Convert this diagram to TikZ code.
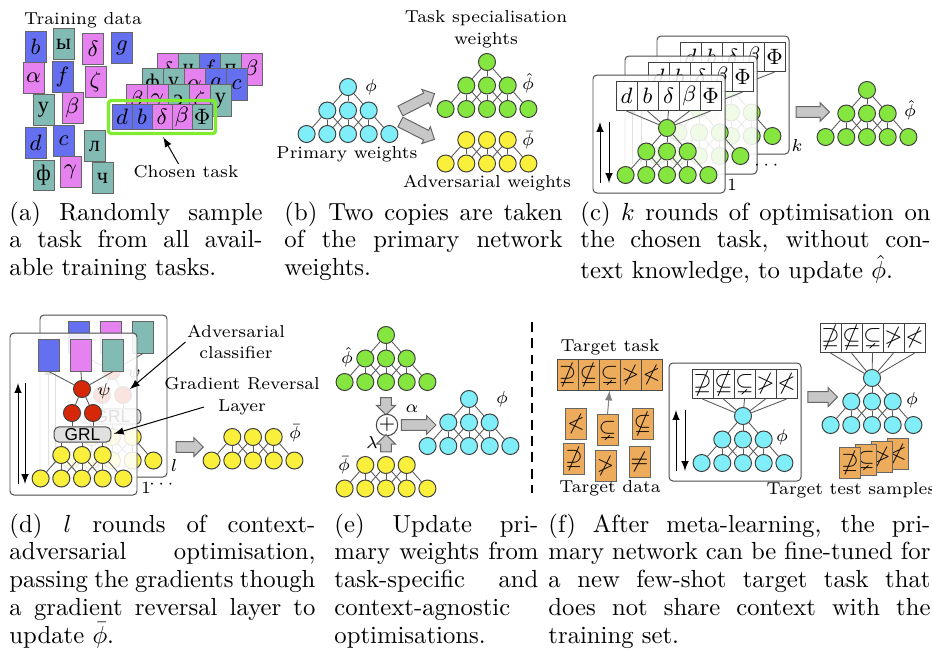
\documentclass[tikz,border=0pt]{standalone}
\usepackage{amsmath}
\usepackage{amssymb}
\usepackage{fontspec}
\newfontfamily\cyrfont{Liberation Serif}
\newfontfamily\grlfont{Liberation Sans}
\usetikzlibrary{shapes.arrows,fit}

\definecolor{unitcyan}{RGB}{128,238,248}
\definecolor{unitgreen}{RGB}{134,230,64}
\definecolor{unityellow}{RGB}{250,240,60}
\definecolor{unitred}{RGB}{214,40,8}
\definecolor{cardblue}{RGB}{100,112,240}
\definecolor{cardpink}{RGB}{230,130,240}
\definecolor{cardteal}{RGB}{130,186,180}
\definecolor{cardorange}{RGB}{236,172,92}
\definecolor{chosengreen}{RGB}{128,236,48}

\hyphenpenalty=10000

% two rows of units (3 over 5): name, centre x, y of upper row, colour
\newcommand{\flatnet}[4]{%
  \foreach \i in {1,2,3}
    \node[unit,fill=#4] (#1m\i) at ({#2+(\i-2)*20.7},{#3}) {};
  \foreach \i in {1,...,5}
    \node[unit,fill=#4] (#1b\i) at ({#2+(\i-3)*20.7},{#3+23.5}) {};
  \foreach \i in {1,2,3}
    \foreach \j in {0,1,2} {
      \pgfmathtruncatemacro{\k}{\i+\j}
      \draw[wire] (#1m\i) -- (#1b\k);
    }
}
% 1-3-5 network: name, centre x, y of top unit, colour
\newcommand{\pyrnet}[4]{%
  \node[unit,fill=#4] (#1t) at (#2,#3) {};
  \flatnet{#1}{#2}{#3+23.5}{#4}
  \foreach \i in {1,2,3}
    \draw[wire] (#1t) -- (#1m\i);
}
% training frame: name, top left corner, unit colour, glyphs of the task row
\newcommand{\netframe}[5]{%
  \begin{scope}[shift={(#2,#3)}]
    \draw[frame] (0,0) rectangle (132,118);
    \foreach \g [count=\i] in {#5}
      \node[cell] (#1c\i) at ({12.5+21*\i},21) {\g};
    \pyrnet{#1n}{74}{53}{#4}
    \foreach \i in {1,...,5}
      \draw[wire] (#1c\i.south) -- (#1nt);
    \draw[-latex] (7,108) -- (7,47);
    \draw[-latex] (16,47) -- (16,108);
  \end{scope}
}
% adversarial frame: name, top left corner
\newcommand{\advframe}[3]{%
  \begin{scope}[shift={(#2,#3)}]
    \draw[frame] (0,0) rectangle (127,162);
    \foreach \col [count=\i] in {cardblue,cardpink,cardteal}
      \node[card,fill=\col,minimum height=12.6pt] (#1r\i) at ({7+32*\i},22.5) {};
    \node[unit,fill=unitred] (#1p) at (72,56) {};
    \node[unit,fill=unitred] (#1q1) at (62,80) {};
    \node[unit,fill=unitred] (#1q2) at (83,80) {};
    \node[lbl] (#1psi) at (94,58) {$\psi$};
    \node[grl] (#1g) at (72.5,101.5) {GRL};
    \flatnet{#1y}{72}{122}{unityellow}
    \foreach \i in {1,2,3} {
      \draw[wire] (#1r\i.south) -- (#1p);
      \draw[wire] (#1g.south -| #1ym\i) -- (#1ym\i);
    }
    \foreach \i in {1,2} {
      \draw[wire] (#1p) -- (#1q\i);
      \draw[wire] (#1q\i) -- (#1q\i |- #1g.north);
    }
    \draw[-latex] (8,151) -- (8,50);
    \draw[-latex] (15,50) -- (15,151);
  \end{scope}
}

\begin{document}
\begin{tikzpicture}[x=0.405pt,y=-0.405pt,
    unit/.style={circle,draw=black!75,line width=0.4pt,minimum size=6.9pt,inner sep=0pt},
    wire/.style={draw=black!65,line width=0.35pt},
    card/.style={draw=black!60,minimum width=8.5pt,minimum height=12.2pt,inner sep=0pt,font=\fontsize{9}{10}\selectfont},
    cell/.style={draw=black!75,fill=white,minimum width=8.5pt,minimum height=11.8pt,inner sep=0pt,font=\fontsize{9.5}{10}\selectfont},
    frame/.style={draw=black!70,fill=white,fill opacity=0.88,rounded corners=1.6pt},
    lbl/.style={inner sep=0.5pt,font=\fontsize{7}{8.8}\selectfont},
    blockarrow/.style={single arrow,draw=black!60,fill=black!22,inner sep=2pt,single arrow head extend=1.6pt,minimum height=#1},
    blockarrow/.default=14pt,
    grl/.style={draw=black!70,fill=black!12,rounded corners=2pt,minimum width=23pt,minimum height=6.2pt,inner sep=0.5pt,font=\grlfont\fontsize{7}{8}\selectfont},
    plus/.style={circle,draw=black!75,fill=white,minimum size=8pt,inner sep=0pt,font=\fontsize{8}{9}\selectfont},
    subcap/.style={anchor=north west,inner sep=0pt,align=justify,text width=#1,font=\fontsize{10}{11.24}\selectfont}]
  \useasboundingbox (0,0) rectangle (932,650);

  % (a) training data and the chosen task
  \node[lbl] (trainlbl) at (83,20) {Training data};
  \foreach \x/\y/\col/\g [count=\i] in {35.5/47/cardblue/$b$, 63.5/44/cardteal/{\cyrfont ы}, 93/49/cardpink/$\delta$,
      122/48/cardblue/$g$, 33.5/78/cardpink/$\alpha$, 62.5/77/cardblue/$f$, 95.5/82/cardpink/$\zeta$,
      43.5/110/cardteal/{\cyrfont у}, 72.5/108/cardpink/$\beta$, 35.5/143/cardblue/$d$, 63.5/141/cardblue/$c$,
      94.5/146/cardteal/{\cyrfont л}, 43.5/175.5/cardteal/{\cyrfont ф}, 70.5/172/cardpink/$\gamma$, 102.5/178/cardteal/{\cyrfont ч}}
    \node[card,fill=\col] (sample\i) at (\x,\y) {\g};
  \foreach \g/\col [count=\i] in {$\delta$/cardpink, {\cyrfont ч}/cardteal, $f$/cardblue, {\cyrfont п}/cardteal, $\beta$/cardpink}
    \node[card,fill=\col,minimum height=12.6pt] (taskA\i) at ({146.5+21*\i},69.5) {\g};
  \foreach \g/\col [count=\i] in {{\cyrfont ф}/cardteal, {\cyrfont у}/cardteal, $\alpha$/cardpink, $g$/cardblue, $c$/cardblue}
    \node[card,fill=\col,minimum height=12.6pt] (taskB\i) at ({131.5+21*\i},84.5) {\g};
  \foreach \g/\col [count=\i] in {$\beta$/cardpink, $\gamma$/cardpink, {\cyrfont э}/cardteal, $\zeta$/cardpink, {\cyrfont у}/cardteal}
    \node[card,fill=\col,minimum height=12.6pt] (taskC\i) at ({115.5+21*\i},100.5) {\g};
  \foreach \g/\col [count=\i] in {$d$/cardblue, $b$/cardblue, $\delta$/cardpink, $\beta$/cardpink, $\Phi$/cardteal}
    \node[card,fill=\col,minimum width=8.1pt,minimum height=10.5pt] (chosen\i) at ({102+20*\i},117) {\g};
  \node[draw=chosengreen,line width=1.3pt,rounded corners=1pt,inner sep=1.2pt,fit=(chosen1)(chosen5)] (chosen) {};
  \node[lbl] (chosenlbl) at (186,172) {Chosen task};
  \draw[-latex,shorten >=1pt] ([xshift=-3pt]chosenlbl.north) -- (chosen.south);

  % (b) two copies of the primary weights
  \pyrnet{prim}{348}{87}{unitcyan}
  \node[lbl] (primphi) at (371,87) {$\phi$};
  \node[lbl] (primlbl) at (347,154) {Primary weights};
  \node[blockarrow=15.5pt,rotate=27] (copyup) at (415,103.5) {};
  \node[blockarrow=15.5pt,rotate=-27] (copydown) at (415,129.5) {};
  \pyrnet{spec}{487}{62}{unitgreen}
  \node[lbl] (specphi) at (528,83) {$\hat{\phi}$};
  \node[lbl,align=center] (speclbl) at (486,29.5) {Task specialisation\\weights};
  \flatnet{adv}{487}{140}{unityellow}
  \node[lbl] (advphi) at (528,140) {$\bar{\phi}$};
  \node[lbl] (advlbl) at (487,183) {Adversarial weights};

  % (c) k rounds on the chosen task
  \netframe{ck}{657}{36}{unitgreen}{$d$,$b$,$\delta$,$\beta$,$\Phi$}
  \netframe{cm}{625}{56}{unitgreen}{$d$,$b$,$\delta$,$\beta$,$\Phi$}
  \netframe{cf}{593}{75}{unitgreen}{$d$,$b$,$\delta$,$\beta$,$\Phi$}
  \node[lbl] (cfirst) at (732,185) {1};
  \node[lbl] (cmore) at (768,165) {$\cdots$};
  \node[lbl] (clast) at (797,145) {$k$};
  \node[blockarrow=13.5pt] (cstep) at (810,112) {};
  \pyrnet{cres}{867}{90}{unitgreen}
  \node[lbl] (cresphi) at (910,110) {$\hat{\phi}$};

  % (d) l rounds of adversarial optimisation
  \advframe{db}{40}{315}
  \advframe{df}{10}{333}
  \node[lbl] (dfirst) at (146,488) {1};
  \node[lbl] (dmore) at (163,484) {$\cdots$};
  \node[lbl] (dlast) at (174,465) {$l$};
  \node[lbl,align=center] (advclf) at (236,342) {Adversarial\\classifier};
  \node[lbl,align=center] (grllbl) at (242,396) {Gradient Reversal\\Layer};
  \draw[-latex] (advclf.west) -- (dbq2);
  \coordinate (grltail) at (204,407);
  \draw[-latex,shorten >=1pt] (grltail) -- (dfg.east);
  \node[blockarrow=11pt] (dstep) at (187,447) {};
  \flatnet{dres}{253}{437}{unityellow}
  \node[lbl] (dresphi) at (295,433) {$\bar{\phi}$};

  % (e) update of the primary weights
  \pyrnet{ehat}{386}{335}{unitgreen}
  \node[lbl] (ehatphi) at (347,357) {$\hat{\phi}$};
  \node[blockarrow=7pt,rotate=-90] (edown) at (386,403.5) {};
  \node[plus] (esum) at (387,425) {$+$};
  \node[blockarrow=7pt,rotate=90] (eup) at (386,446) {};
  \node[lbl] (elambda) at (372,442) {$\lambda$};
  \flatnet{ebar}{386}{465}{unityellow}
  \node[lbl] (ebarphi) at (344,465) {$\bar{\phi}$};
  \node[blockarrow=14pt] (eright) at (416,425) {};
  \node[lbl] (ealpha) at (412,409) {$\alpha$};
  \pyrnet{eprim}{469}{399}{unitcyan}
  \node[lbl] (eprimphi) at (502,399) {$\phi$};
  \draw[line width=1.1pt,dash pattern=on 4pt off 2.6pt] (532,322) -- (532,493);

  % (f) fine-tuning on the target task
  \node[lbl] (tasklbl) at (610,347) {Target task};
  \foreach \g [count=\i] in {$\nsupseteq$,$\nsubseteq$,$\subsetneq$,$\ngtr$,$\nless$}
    \node[card,fill=cardorange,draw=black!70] (task\i) at ({546.5+21*\i},375) {\g};
  \foreach \x/\y/\g [count=\i] in {576/424/$\nless$, 607.5/430/$\subsetneq$, 642.5/424/$\nsubseteq$,
      574/459/$\nsupseteq$, 605.5/466/$\ngtr$, 639.5/462/$\neq$}
    \node[card,fill=cardorange] (data\i) at (\x,\y) {\g};
  \draw[-latex,black!50] (data2.north) -- (task3.south);
  \node[lbl] (datalbl) at (610,488) {Target data};
  \netframe{fine}{669}{363}{unitcyan}{$\nsupseteq$,$\nsubseteq$,$\subsetneq$,$\ngtr$,$\nless$}
  \node[lbl] (finephi) at (782,437) {$\phi$};
  \node[blockarrow=12pt] (finestep) at (820,397) {};
  \foreach \g [count=\i] in {$\nsupseteq$,$\nsubseteq$,$\subsetneq$,$\ngtr$,$\nless$}
    \node[cell] (out\i) at ({809.5+21*\i},338) {\g};
  \pyrnet{outn}{872}{378}{unitcyan}
  \foreach \i in {1,...,5}
    \draw[wire] (out\i.south) -- (outnt);
  \node[lbl] (outphi) at (912,400) {$\phi$};
  \foreach \x/\y/\g [count=\i] in {898/454/$\nless$, 882/457/$\ngtr$, 866/460/$\subsetneq$, 850/463/$\nsupseteq$}
    \node[card,fill=cardorange] (test\i) at (\x,\y) {\g};
  \node[lbl] (testlbl) at (851,490) {Target test samples};

  % captions
  \node[subcap=102.5pt] (capa) at (9,201) {(a) Randomly sample\linebreak a task from all avail-\linebreak able training tasks.};
  \node[subcap=112.6pt] (capb) at (284,201) {(b) Two copies are taken\linebreak of the primary network\linebreak weights.};
  \node[subcap=141.8pt] (capc) at (580,201) {(c) $k$ rounds of optimisation on\linebreak the chosen task, without con-\linebreak text knowledge, to update $\hat{\phi}$.};
  \node[subcap=123.9pt] (capd) at (9,513) {(d) $l$ rounds of context-\linebreak adversarial optimisation,\linebreak passing the gradients though\linebreak a gradient reversal layer to\linebreak update $\bar{\phi}$.};
  \node[subcap=82.6pt] (cape) at (334,513) {(e) Update pri-\linebreak mary weights from\linebreak task-specific and\linebreak context-agnostic\linebreak optimisations.};
  \node[subcap=154.7pt] (capf) at (548,513) {(f) After meta-learning, the pri-\linebreak mary network can be fine-tuned for\linebreak a new few-shot target task that\linebreak does not share context with the\linebreak training set.};
\end{tikzpicture}
\end{document}
